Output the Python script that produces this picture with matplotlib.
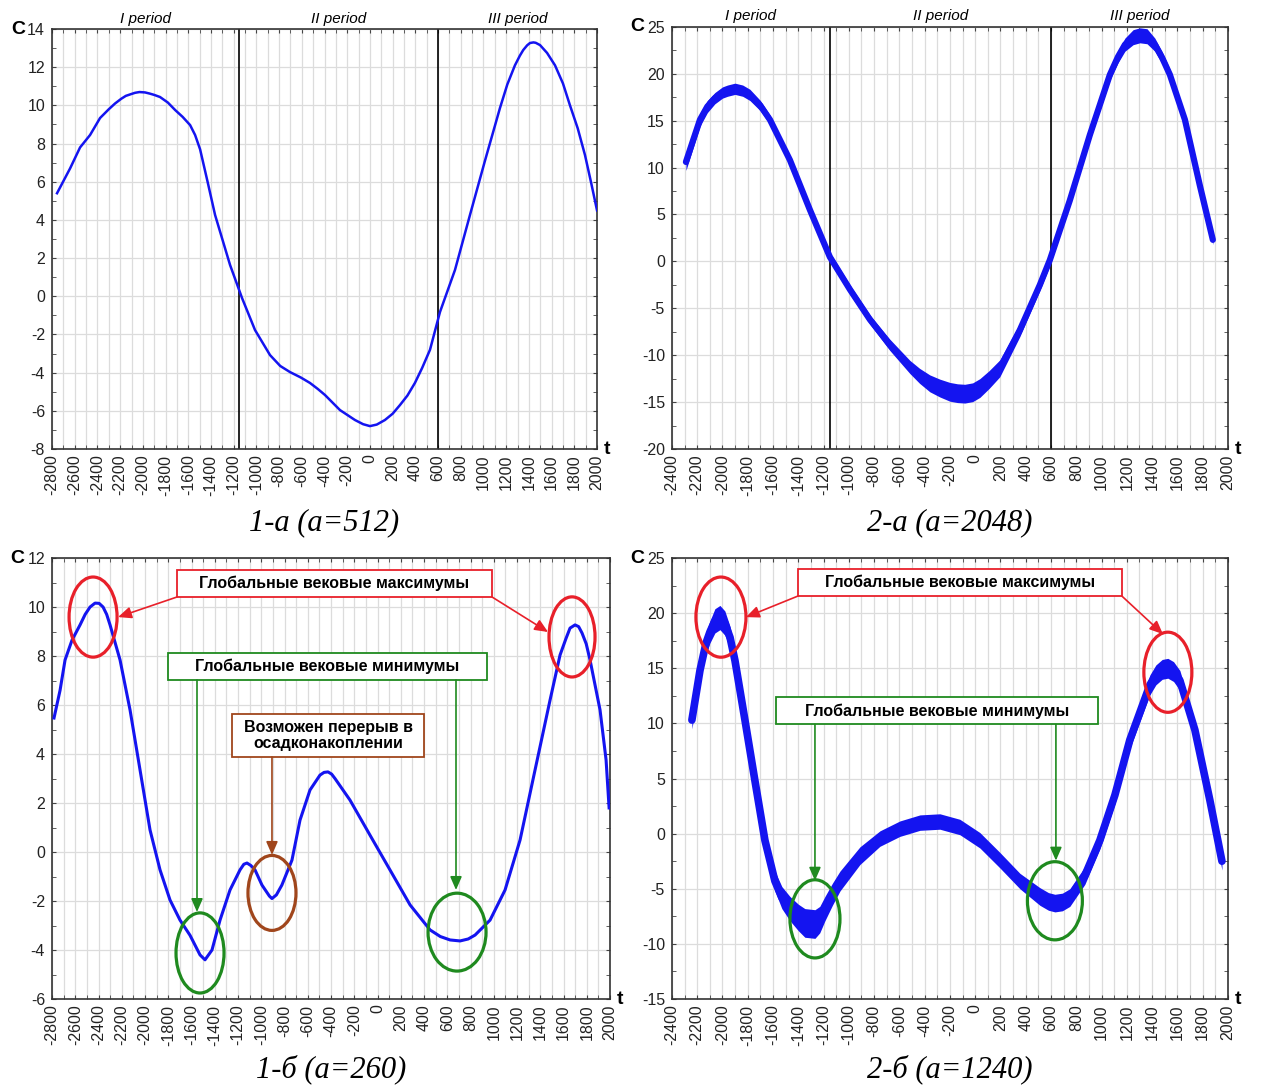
"""
Wavelet-filtered C(t) curves: four panels (1-а, 2-а, 1-б, 2-б) with period
boundaries and annotated secular maxima/minima.
"""
import matplotlib
matplotlib.use("Agg")
import matplotlib.pyplot as plt
import matplotlib.ticker as mticker
from matplotlib.patches import Ellipse, Rectangle
import numpy as np

plt.rcParams["font.family"] = ["Liberation Sans", "DejaVu Sans"]
plt.rcParams["axes.unicode_minus"] = False

# ── Data ─────────────────────────────────────────────────────────────────────
t_1a = [-2756, -2641, -2553, -2465, -2377, -2300, -2245, -2190, -2150, -2100, -2069, -2030,
        -1981, -1940, -1900, -1849, -1780, -1716, -1650, -1584, -1540, -1496, -1430,
        -1364, -1232, -1126, -1012, -880, -790, -704, -610, -528, -460, -396,
        -264, -132, -60, 0, 60, 132, 200, 264, 330, 396, 460, 529, 617, 749, 881, 1013,
        1080, 1145, 1210, 1277, 1320, 1350, 1385, 1410, 1440, 1460, 1498, 1560, 1630, 1700,
        1762, 1830, 1894, 1950, 2000]
c_1a = [5.4, 6.7, 7.8, 8.45, 9.34, 9.8, 10.1, 10.35, 10.5, 10.6, 10.66, 10.7,
        10.68, 10.62, 10.55, 10.44, 10.15, 9.76, 9.4, 8.97, 8.45, 7.7, 6.0,
        4.26, 1.64, -0.1, -1.77, -3.08, -3.65, -3.97, -4.25, -4.54, -4.85, -5.17,
        -5.96, -6.48, -6.7, -6.8, -6.72, -6.48, -6.15, -5.7, -5.2, -4.54, -3.75, -2.8, -0.82,
        1.38, 4.26, 7.1, 8.5, 9.86, 11.1, 12.1, 12.6, 12.9, 13.15, 13.27, 13.3, 13.28,
        13.16, 12.75, 12.1, 11.15, 10.0, 8.8, 7.4, 5.9, 4.5]

t_2a = [-2289, -2230, -2178, -2120, -2060, -2000, -1960, -1901, -1840, -1783, -1700, -1624,
        -1466, -1308, -1150, -991, -833, -675, -517, -440, -359, -280, -201, -140, -82, -20, 37,
        110, 195, 354, 512, 591, 749, 908, 1066, 1130, 1185, 1250, 1303, 1360, 1422, 1480,
        1541, 1660, 1778, 1881]
c_2a = [10.6, 13.0, 15.1, 16.5, 17.4, 18.0, 18.2, 18.4, 18.2, 17.75, 16.6, 15.1,
        10.8, 5.5, 0.47, -3.0, -6.2, -8.9, -11.25, -12.2, -13.0, -13.5, -13.9, -14.05, -14.1,
        -13.95, -13.5, -12.6, -11.4, -7.3, -2.5, 0.15, 6.5, 13.5, 19.9, 21.8, 23.1, 23.9,
        24.1, 24.0, 23.1, 21.7, 19.9, 15.1, 8.1, 2.3]
w_2a = [0.9, 0.8, 0.7, 0.65, 0.6, 0.6, 0.6, 0.6, 0.6, 0.6, 0.55, 0.5,
        0.5, 0.5, 0.5, 0.5, 0.5, 0.6, 0.7, 0.8, 0.9, 0.95, 1.0, 1.0, 1.0, 1.0, 1.0,
        0.95, 0.9, 0.7, 0.6, 0.6, 0.6, 0.6, 0.6, 0.65, 0.7, 0.8, 0.8, 0.8, 0.7, 0.65,
        0.6, 0.5, 0.5, 0.5]

t_1b = [-2783, -2731, -2688, -2628, -2559, -2515, -2473, -2430, -2395, -2361, -2330, -2301,
        -2215, -2129, -2043, -1957, -1871, -1785, -1699, -1613, -1527, -1484, -1424, -1355,
        -1269, -1183, -1150, -1123, -1090, -1054, -994, -930, -908, -870, -823, -736, -667,
        -581, -495, -460, -426, -395, -366, -237, -65, 107, 280, 452, 540, 624, 710, 780,
        839, 968, 1097, 1226, 1355, 1484, 1570, 1620, 1656, 1699, 1730, 1759, 1795, 1828,
        1914, 1966, 1992]
c_1b = [5.47, 6.6, 7.84, 8.65, 9.27, 9.7, 10.0, 10.16, 10.15, 10.0, 9.7, 9.27,
        7.84, 5.8, 3.35, 0.9, -0.73, -1.96, -2.78, -3.4, -4.2, -4.4, -4.0, -2.78,
        -1.55, -0.73, -0.5, -0.45, -0.55, -0.73, -1.35, -1.8, -1.9, -1.75, -1.35, -0.33, 1.3,
        2.53, 3.14, 3.25, 3.27, 3.18, 3.0, 2.12, 0.69, -0.73, -2.16, -3.18, -3.45, -3.59,
        -3.63, -3.55, -3.39, -2.78, -1.55, 0.49, 3.35, 6.2, 8.04, 8.7, 9.14, 9.27, 9.2,
        8.94, 8.5, 7.84, 5.8, 3.76, 1.8]

t_2b = [-2242, -2178, -2130, -2099, -2060, -2020, -1981, -1940, -1901, -1822, -1743, -1664,
        -1585, -1530, -1466, -1400, -1348, -1268, -1230, -1189, -1130, -1070, -912, -754,
        -596, -437, -279, -121, 37, 195, 354, 512, 580, 631, 690, 749, 868, 987, 1106, 1224,
        1383, 1430, 1480, 1525, 1570, 1620, 1739, 1858, 1953]
c_2b = [10.3, 14.8, 17.3, 18.3, 19.3, 19.6, 19.1, 17.8, 15.7, 10.3, 4.8, -0.6,
        -4.3, -5.8, -6.8, -7.6, -8.1, -8.2, -7.8, -6.8, -5.5, -4.3, -2.0, -0.45,
        0.45, 1.0, 1.1, 0.6, -0.6, -2.4, -4.3, -5.7, -6.15, -6.3, -6.2, -5.8, -3.8, -0.6, 3.5,
        8.5, 13.5, 14.4, 14.9, 15.0, 14.7, 13.9, 9.4, 3.0, -2.5]
w_2b = [0.8, 0.9, 1.0, 1.0, 1.1, 1.1, 1.1, 1.0, 1.0, 0.9, 0.8, 0.8,
        0.9, 1.0, 1.1, 1.2, 1.3, 1.3, 1.2, 1.1, 1.0, 0.9, 0.8, 0.7,
        0.7, 0.7, 0.7, 0.7, 0.7, 0.7, 0.7, 0.8, 0.8, 0.8, 0.8, 0.8, 0.8, 0.8, 0.8,
        0.8, 0.9, 0.9, 0.9, 0.9, 0.9, 0.9, 0.8, 0.8, 0.8]

PERIOD_BOUNDS = [-1150, 600]
PERIOD_NAMES = ["I period", "II period", "III period"]

BLUE = "#1414f0"
RED = "#e8202a"
GREEN = "#1f8a1f"
BROWN = "#a0461c"

fig = plt.figure(figsize=(12.63, 10.88), dpi=100)


def setup_axes(rect, xlim, ylim, ystep, x_first):
    ax = fig.add_axes(rect)
    ax.set_xlim(*xlim)
    ax.set_ylim(*ylim)
    ax.xaxis.set_major_locator(mticker.FixedLocator(np.arange(x_first, 2001, 200)))
    ax.xaxis.set_minor_locator(mticker.MultipleLocator(100))
    ax.yaxis.set_major_locator(mticker.MultipleLocator(ystep))
    ax.yaxis.set_minor_locator(mticker.AutoMinorLocator(2))
    ax.grid(axis="x", which="both", color="#dcdcdc", lw=0.9)
    ax.grid(axis="y", which="major", color="#dcdcdc", lw=0.9)
    ax.tick_params(axis="x", which="both", direction="in", top=True, labelsize=11.5,
                   labelrotation=90, length=3, color="#444444", pad=4)
    ax.tick_params(axis="y", which="both", direction="in", right=True, labelsize=11.5,
                   length=3, color="#444444", pad=5)
    for lab in ax.get_xticklabels() + ax.get_yticklabels():
        lab.set_color("#222222")
    for s in ax.spines.values():
        s.set_color("#333333")
        s.set_linewidth(1.2)
    ax.set_axisbelow(True)
    ax.text(-0.075, 1.0, "C", transform=ax.transAxes, fontsize=14, fontweight="bold",
            ha="left", va="center")
    ax.text(1.012, 0.0, "t", transform=ax.transAxes, fontsize=14, fontweight="bold",
            ha="left", va="center")
    return ax


def add_periods(ax):
    for b in PERIOD_BOUNDS:
        ax.axvline(b, color="black", lw=1.2, zorder=2)
    xmin, xmax = ax.get_xlim()
    edges = [xmin] + PERIOD_BOUNDS + [xmax]
    for i, name in enumerate(PERIOD_NAMES):
        ax.text((edges[i] + edges[i + 1]) / 2, 1.008, name, transform=ax.get_xaxis_transform(),
                fontsize=11, style="italic", ha="center", va="bottom")


def caption(ax, text, y=-0.175):
    ax.text(0.5, y, text, transform=ax.transAxes, ha="center", va="center",
            fontsize=22, style="italic", family=["Liberation Serif", "DejaVu Serif"])


def box(ax, x0, x1, y0, y1, text, color):
    ax.add_patch(Rectangle((x0, y0), x1 - x0, y1 - y0, fill=True, fc="white",
                           ec=color, lw=1.3, zorder=5))
    ax.text((x0 + x1) / 2, (y0 + y1) / 2, text, ha="center", va="center",
            fontsize=11.5, fontweight="bold", zorder=6, linespacing=1.15)


def arrow(ax, start, end, color):
    ax.annotate("", xy=end, xytext=start, zorder=6,
                arrowprops=dict(arrowstyle="-|>,head_length=0.8,head_width=0.35",
                                color=color, lw=1.2, shrinkA=0, shrinkB=0))


def ring(ax, center, w, h, color):
    ax.add_patch(Ellipse(center, w, h, fill=False, ec=color, lw=2.3, zorder=4))


def band(ax, t, c, w, lw):
    lo = np.array(c) - np.array(w)
    hi = np.array(c) + np.array(w)
    ax.fill_between(t, lo, hi, color=BLUE, lw=0, zorder=3)
    ax.plot(t, c, color=BLUE, lw=lw, zorder=3, solid_joinstyle="round",
            solid_capstyle="round")


# ── 1-а ───────────────────────────────────────────────────────────────────────
ax1 = setup_axes([0.0412, 0.5873, 0.4315, 0.386], (-2800, 2000), (-8, 14), 2, -2800)
ax1.plot(t_1a, c_1a, color=BLUE, lw=1.8, zorder=3)
add_periods(ax1)
caption(ax1, "1-а (а=512)")

# ── 2-а ───────────────────────────────────────────────────────────────────────
ax2 = setup_axes([0.532, 0.5873, 0.4402, 0.388], (-2400, 2000), (-20, 25), 5, -2400)
band(ax2, t_2a, c_2a, w_2a, 4.5)
add_periods(ax2)
caption(ax2, "2-а (а=2048)")

# ── 1-б ───────────────────────────────────────────────────────────────────────
ax3 = setup_axes([0.0412, 0.0818, 0.4418, 0.4053], (-2800, 2000), (-6, 12), 2, -2800)
ax3.plot(t_1b, c_1b, color=BLUE, lw=2.2, zorder=3)
caption(ax3, "1-б (а=260)", y=-0.16)

box(ax3, -1725, 985, 10.41, 11.51, "Глобальные вековые максимумы", RED)
arrow(ax3, (-1725, 10.41), (-2232, 9.59), RED)
arrow(ax3, (985, 10.41), (1467, 8.98), RED)
ring(ax3, (-2447, 9.59), 413, 3.27, RED)
ring(ax3, (1673, 8.78), 396, 3.27, RED)

box(ax3, -1802, 942, 7.02, 8.12, "Глобальные вековые минимумы", GREEN)
arrow(ax3, (-1553, 7.02), (-1553, -2.45), GREEN)
arrow(ax3, (675, 7.02), (675, -1.55), GREEN)
ring(ax3, (-1527, -4.12), 413, 3.27, GREEN)
ring(ax3, (684, -3.27), 499, 3.18, GREEN)

box(ax3, -1252, 400, 3.88, 5.63, "Возможен перерыв в\nосадконакоплении", BROWN)
arrow(ax3, (-908, 3.88), (-908, -0.12), BROWN)
ring(ax3, (-908, -1.67), 413, 3.06, BROWN)

# ── 2-б ───────────────────────────────────────────────────────────────────────
ax4 = setup_axes([0.532, 0.0818, 0.4402, 0.4053], (-2400, 2000), (-15, 25), 5, -2400)
band(ax4, t_2b, c_2b, w_2b, 5.5)
caption(ax4, "2-б (а=1240)", y=-0.16)

box(ax4, -1403, 1161, 21.55, 24.0, "Глобальные вековые максимумы", RED)
arrow(ax4, (-1403, 21.55), (-1814, 19.64), RED)
arrow(ax4, (1161, 21.55), (1486, 18.1), RED)
ring(ax4, (-2012, 19.64), 396, 7.27, RED)
ring(ax4, (1525, 14.64), 380, 7.27, RED)

box(ax4, -1577, 971, 9.91, 12.36, "Глобальные вековые минимумы", GREEN)
arrow(ax4, (-1268, 9.91), (-1268, -4.27), GREEN)
arrow(ax4, (639, 9.91), (639, -2.45), GREEN)
ring(ax4, (-1268, -7.73), 396, 7.09, GREEN)
ring(ax4, (631, -6.09), 435, 7.09, GREEN)

fig.savefig("out.png", dpi=100)
